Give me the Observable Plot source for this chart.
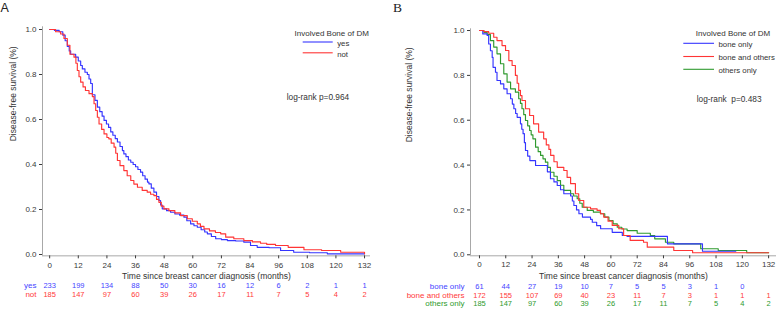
<!DOCTYPE html>
<html>
<head>
<meta charset="utf-8">
<script src="https://cdn.jsdelivr.net/npm/d3@7"></script>
<script src="https://cdn.jsdelivr.net/npm/@observablehq/plot@0.6"></script>
<style>
  html, body { margin: 0; padding: 0; background: #fff; }
  #wrap { position: relative; width: 777px; height: 311px; overflow: hidden; font-family: "Liberation Sans", Arial, sans-serif; }
  #pa, #pb, #ov { position: absolute; top: 0; }
  #pa { left: 0; }
  #pb { left: 390px; }
  #ov { left: 0; pointer-events: none; }
</style>
</head>
<body>
<div id="wrap"><div id="pa"></div><div id="pb"></div><svg id="ov" width="777" height="311"></svg></div>
<script>
// ---------- data ----------
const months = [0, 12, 24, 36, 48, 60, 72, 84, 96, 108, 120, 132];
const survTicks = [0, 0.2, 0.4, 0.6, 0.8, 1.0];

// Panel A: yes (blue)
const aYesT = [0,2,4,5.5,6.5,7.4,8.2,8.8,10.9,12,13,13.7,14.8,15.8,16.5,17.2,17.9,19,20,21,22,22.8,23.8,24.7,25.6,26.5,27.5,28.4,29.5,30.5,31.1,32,33,34,35,36,37,38.1,39,40,41,41.6,42.6,43.7,44.8,45.8,46.5,47.2,49,50.7,52.5,54.5,56.3,57.5,59.1,60.5,61.9,63.5,65,66.1,67.8,69.6,72,74.5,78,81.4,84.2,87,92,96.8,102.3,109,116.4,132];
const aYesS = [1,0.996,0.99,0.975,0.95,0.925,0.905,0.89,0.877,0.86,0.84,0.825,0.81,0.8,0.78,0.76,0.71,0.685,0.655,0.635,0.615,0.596,0.58,0.565,0.545,0.53,0.515,0.5,0.48,0.462,0.447,0.435,0.42,0.41,0.4,0.39,0.378,0.366,0.35,0.335,0.322,0.314,0.295,0.277,0.258,0.24,0.22,0.203,0.195,0.188,0.18,0.175,0.166,0.15,0.136,0.128,0.121,0.11,0.1,0.092,0.08,0.07,0.066,0.062,0.06,0.055,0.04,0.032,0.03,0.018,0.01,0.008,0.003,0.003];
// Panel A: not (red)
const aNotT = [0,2.5,4.6,6,7.4,8.5,10.2,11,11.6,12.3,13,14,15,16.5,17.9,18.6,19.3,20,20.7,21.8,22.8,24,24.8,25.8,27,27.7,28.4,29.5,31.1,32.5,34,35.3,36.8,38.8,40.9,42.3,43.7,44.8,45.8,46.8,47.9,50,52.5,54.9,57.7,59.8,61.9,63.2,64.7,67,69.5,71.7,73.8,77.2,81.4,85,88.4,91,94.7,100,106.6,114,122,132,132];
const aNotS = [1,0.99,0.98,0.96,0.93,0.89,0.877,0.85,0.818,0.79,0.766,0.745,0.729,0.715,0.702,0.67,0.64,0.61,0.58,0.556,0.536,0.52,0.514,0.495,0.477,0.45,0.418,0.395,0.373,0.35,0.329,0.313,0.299,0.285,0.277,0.268,0.262,0.245,0.232,0.215,0.203,0.195,0.185,0.173,0.159,0.148,0.136,0.125,0.114,0.105,0.098,0.092,0.077,0.07,0.062,0.056,0.05,0.045,0.04,0.032,0.021,0.018,0.01,0.01,0.003];

// Panel B: bone only (blue)
const bBoneT = [0,1.5,3.5,4.2,5,5.8,6.2,7.3,8,9.6,11.1,12.6,14.2,15,15.7,16.5,17.2,18.7,19.3,19.9,20.5,21,22,23,25.6,31,32.4,34,35.5,37,38.5,41.6,42.4,43.1,44.3,45.4,47,50.7,51.5,53.5,55.3,60.6,65.2,67.4,85.8,101.8,117];
const bBoneS = [1,0.985,0.978,0.94,0.91,0.88,0.836,0.814,0.777,0.762,0.74,0.718,0.696,0.672,0.651,0.63,0.613,0.584,0.56,0.54,0.5,0.465,0.44,0.42,0.398,0.37,0.339,0.325,0.309,0.29,0.272,0.262,0.24,0.22,0.2,0.183,0.168,0.158,0.145,0.13,0.116,0.1,0.086,0.082,0.049,0.016,0.016];
// Panel B: bone and others (red)
const bBothT = [0,2,4.2,6.5,8,10.3,11.9,13.4,14.9,16.4,17.2,17.9,18.7,19.4,21,22.9,24.7,27,29.3,30.5,31.7,32.5,34,35.5,38.5,40,41.6,43.8,45.3,47.6,50.7,53.7,55.2,56.7,58.7,60.6,63.6,65.8,68.8,74.9,76.6,88.7,97.3,132];
const bBothS = [1,0.995,0.988,0.97,0.955,0.933,0.911,0.866,0.844,0.8,0.765,0.733,0.71,0.688,0.651,0.621,0.584,0.547,0.517,0.49,0.47,0.443,0.415,0.39,0.376,0.345,0.317,0.272,0.242,0.212,0.205,0.198,0.183,0.168,0.15,0.131,0.116,0.086,0.064,0.056,0.034,0.019,0.009,0.009];
// Panel B: others only (green)
const bOthT = [0,2,3.5,5,6.5,8,9.6,11.1,12.6,14.2,16.4,17.9,18.7,19.4,20.2,21,22,22.9,23.6,24.4,25.6,26.8,27.9,29,30.1,31.2,32.4,34,35.5,37,38.5,41.6,43,44.6,45.8,46.9,49.2,52,55.3,57.2,59.1,61,62.9,65,67.4,72,78,80,84.9,88.7,101,109,122,132];
const bOthS = [1,0.992,0.982,0.955,0.926,0.896,0.852,0.807,0.77,0.74,0.725,0.696,0.675,0.651,0.625,0.599,0.575,0.554,0.535,0.517,0.48,0.46,0.443,0.428,0.413,0.39,0.368,0.35,0.331,0.31,0.287,0.272,0.262,0.25,0.23,0.212,0.198,0.19,0.183,0.168,0.153,0.138,0.123,0.115,0.108,0.096,0.086,0.071,0.056,0.049,0.027,0.019,0.009,0.009];

// numbers at risk
const riskAYes = [233, 199, 134, 88, 50, 30, 16, 12, 6, 2, 1, 1];
const riskANot = [185, 147, 97, 60, 39, 26, 17, 11, 7, 5, 4, 2];
const riskBBone = [61, 44, 27, 19, 10, 7, 5, 5, 3, 1, 0];
const riskBBoth = [172, 155, 107, 69, 40, 23, 11, 7, 3, 1, 1, 1];
const riskBOth = [185, 147, 97, 60, 39, 26, 17, 11, 7, 5, 4, 2];

const legendTitle = "Involved Bone of DM";
const labelsA = ["yes", "not"];
const labelsB = ["bone only", "bone and others", "others only"];
const pA = "log-rank p=0.964";
const pB = "log-rank  p=0.483";

// ---------- styling ----------
const BLUE = "#3535ff", RED = "#ff3535", GREEN = "#2f9a2f";
const TBLUE = "#4545ff", TRED = "#ff3a3a", TGREEN = "#2e9a2e";
const FONT = "'Liberation Sans', Arial, sans-serif";

const zip = (ts, ss) => ts.map((t, i) => ({t, s: ss[i]}));
const riskRows = (ns) => ns.map((n, i) => ({t: months[i], n}));

function panel(o) {
  const marks = [
    Plot.ruleX([o.xDomain[0]], {stroke: "#a8a8a8"}),
    Plot.ruleY([o.yDomain[0]], {stroke: "#a8a8a8"}),
    Plot.axisX({ticks: months, tickFormat: "d", tickSize: 3, tickPadding: 3, label: null, color: "#3a3a3a", fontSize: 8}),
    Plot.axisY({ticks: survTicks, tickFormat: ".1f", tickSize: 3, tickPadding: 3, label: null, color: "#3a3a3a", fontSize: 8}),
    ...o.curves.map(c => Plot.line(c.data, {x: "t", y: "s", curve: "step-after", stroke: c.color, strokeWidth: 1.15})),
    Plot.text(["Disease-free survival (%)"], {frameAnchor: "left", dx: o.ylabelDx, rotate: -90, fontSize: 8.5, fill: "#333"}),
    Plot.text(["Time since breast cancer diagnosis (months)"], {frameAnchor: "bottom", dy: 23, fontSize: 8.5, fill: "#333"})
  ];
  o.risk.forEach(r => {
    marks.push(Plot.text(riskRows(r.values), {x: "t", text: d => String(d.n), frameAnchor: "bottom", dy: r.dy, fill: r.color, fontSize: 7.5}));
    marks.push(Plot.text([r.label], {frameAnchor: "bottom-left", dx: -6, dy: r.dy, textAnchor: "end", fill: r.color, fontSize: 8}));
  });
  return Plot.plot({
    width: o.width, height: 311,
    marginLeft: o.marginLeft, marginRight: o.marginRight, marginTop: o.marginTop, marginBottom: o.marginBottom,
    style: {fontFamily: FONT, fontSize: "8px", background: "transparent", overflow: "visible"},
    x: {domain: o.xDomain},
    y: {domain: o.yDomain},
    marks
  });
}

const chartA = panel({
  width: 388, marginLeft: 42, marginRight: 18, marginTop: 26.3, marginBottom: 55.65,
  xDomain: [-3, 134.5], yDomain: [-0.006, 1.012], ylabelDx: -29,
  curves: [{data: zip(aYesT, aYesS), color: BLUE}, {data: zip(aNotT, aNotS), color: RED}],
  risk: [
    {values: riskAYes, label: labelsA[0], color: TBLUE, dy: 32},
    {values: riskANot, label: labelsA[1], color: TRED, dy: 40.7}
  ]
});
document.getElementById("pa").appendChild(chartA);

const chartB = panel({
  width: 387, marginLeft: 80, marginRight: 1, marginTop: 28.3, marginBottom: 55.7,
  xDomain: [-4.1, 135.6], yDomain: [-0.0045, 1.0077], ylabelDx: -61.5,
  curves: [{data: zip(bOthT, bOthS), color: GREEN}, {data: zip(bBoneT, bBoneS), color: BLUE}, {data: zip(bBothT, bBothS), color: RED}],
  risk: [
    {values: riskBBone, label: labelsB[0], color: TBLUE, dy: 33},
    {values: riskBBoth, label: labelsB[1], color: TRED, dy: 41.7},
    {values: riskBOth, label: labelsB[2], color: TGREEN, dy: 50.4}
  ]
});
document.getElementById("pb").appendChild(chartB);

// ---------- overlay: panel letters, legends, p-values ----------
const ov = d3.select("#ov").attr("font-family", FONT);
ov.append("text").attr("x", 0.5).attr("y", 12).attr("font-size", 12.5).attr("font-family", "'Liberation Sans', Arial, sans-serif").attr("fill", "#222").text("A");
ov.append("text").attr("x", 393).attr("y", 12).attr("font-size", 13.5).attr("font-family", "'Liberation Serif', 'Times New Roman', serif").attr("fill", "#222").text("B");

function legend(cx, ty, x1, x2, rows) {
  ov.append("text").attr("x", cx).attr("y", ty).attr("text-anchor", "middle").attr("dominant-baseline", "central")
    .attr("font-size", 8).attr("fill", "#333").text(legendTitle);
  rows.forEach(r => {
    ov.append("line").attr("x1", x1).attr("x2", x2).attr("y1", r.y).attr("y2", r.y).attr("stroke", r.color).attr("stroke-width", 1.1);
    ov.append("text").attr("x", x2 + 4.5).attr("y", r.y + 1.2).attr("dominant-baseline", "central")
      .attr("font-size", 7.8).attr("fill", "#333").text(r.label);
  });
}
legend(331.7, 33.3, 302.7, 332.7, [{label: labelsA[0], y: 42, color: BLUE}, {label: labelsA[1], y: 52.8, color: RED}]);
legend(733, 33.5, 683.3, 714, [{label: labelsB[0], y: 43.3, color: BLUE}, {label: labelsB[1], y: 56.5, color: RED}, {label: labelsB[2], y: 69.3, color: GREEN}]);

ov.append("text").attr("x", 286.7).attr("y", 96.7).attr("dominant-baseline", "central").attr("font-size", 8.3).attr("fill", "#333").text(pA);
ov.append("text").attr("x", 696.7).attr("y", 98.5).attr("dominant-baseline", "central").attr("font-size", 8.3).attr("fill", "#333")
  .attr("xml:space", "preserve").style("white-space", "pre").text(pB);
</script>
</body>
</html>
